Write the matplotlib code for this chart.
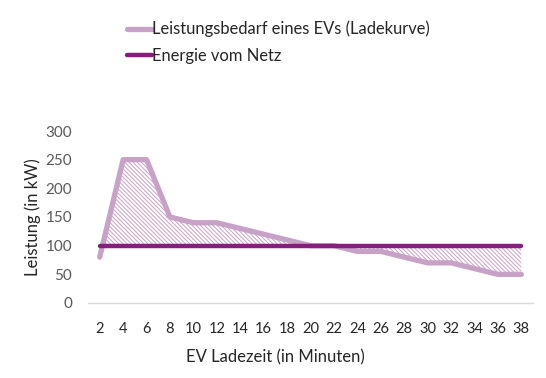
import matplotlib
matplotlib.use("Agg")
import matplotlib.pyplot as plt
import numpy as np

minutes = [2, 4, 6, 8, 10, 12, 14, 16, 18, 20, 22, 24, 26, 28, 30, 32, 34, 36, 38]
ladekurve = [80, 250, 250, 150, 140, 140, 130, 120, 110, 100, 100, 90, 90, 80, 70, 70, 60, 50, 50]
netz = [100] * len(minutes)
labels = ["Leistungsbedarf eines EVs (Ladekurve)", "Energie vom Netz"]

LIGHT = "#c8a2c6"
DARK = "#861f7b"
GRAY = "#595959"
TEXT = "#262626"

plt.rcParams["font.family"] = ["Lato", "DejaVu Sans"]
plt.rcParams["hatch.linewidth"] = 0.7

fig = plt.figure(figsize=(5.46, 3.78), dpi=100)
renderer = fig.canvas.get_renderer()


def fit_size(s, target_px, base=11):
    # font size so that the text is about target_px wide
    t = fig.text(0, 0, s, fontsize=base)
    w = t.get_window_extent(renderer).width
    t.remove()
    return base * target_px / w


ax = fig.add_axes([88 / 546, (378 - 303) / 378, 445 / 546, 172 / 378])

x = np.array(minutes)
ax.fill_between(x, ladekurve, netz, facecolor="none", edgecolor=LIGHT,
                hatch="\\" * 8, linewidth=0)
l1, = ax.plot(x, ladekurve, color=LIGHT, lw=3.8, solid_capstyle="round", label=labels[0])
l2, = ax.plot(x, netz, color=DARK, lw=3.2, solid_capstyle="round", label=labels[1])

ax.set_xlim(1, 39)
ax.set_ylim(0, 300)
ax.set_xticks(minutes)
ax.set_yticks(range(0, 301, 50))
ax.tick_params(axis="x", length=0, labelsize=10.5, labelcolor=TEXT, pad=14)
ax.tick_params(axis="y", length=0, labelsize=11, labelcolor=GRAY, pad=11.5)
for s in ["top", "right", "left"]:
    ax.spines[s].set_visible(False)
ax.spines["bottom"].set_color("#d9d9d9")
ax.spines["bottom"].set_linewidth(1)

lab_size = fit_size("EV Ladezeit (in Minuten)", 178)
ax.set_xlabel("EV Ladezeit (in Minuten)", fontsize=lab_size, color=TEXT, labelpad=9)
ax.xaxis.set_label_coords(0.42, -0.27)
ax.set_ylabel("Leistung (in kW)", fontsize=lab_size, color=TEXT, labelpad=3)

leg_size = fit_size(labels[0], 278)
fig.legend(handles=[l1, l2], loc="upper left", bbox_to_anchor=(112 / 546, 1 - 6 / 378),
           frameon=False, fontsize=leg_size, handlelength=1.5, handletextpad=0.05,
           labelspacing=0.62, labelcolor=TEXT)

fig.savefig("out.png", dpi=100)
